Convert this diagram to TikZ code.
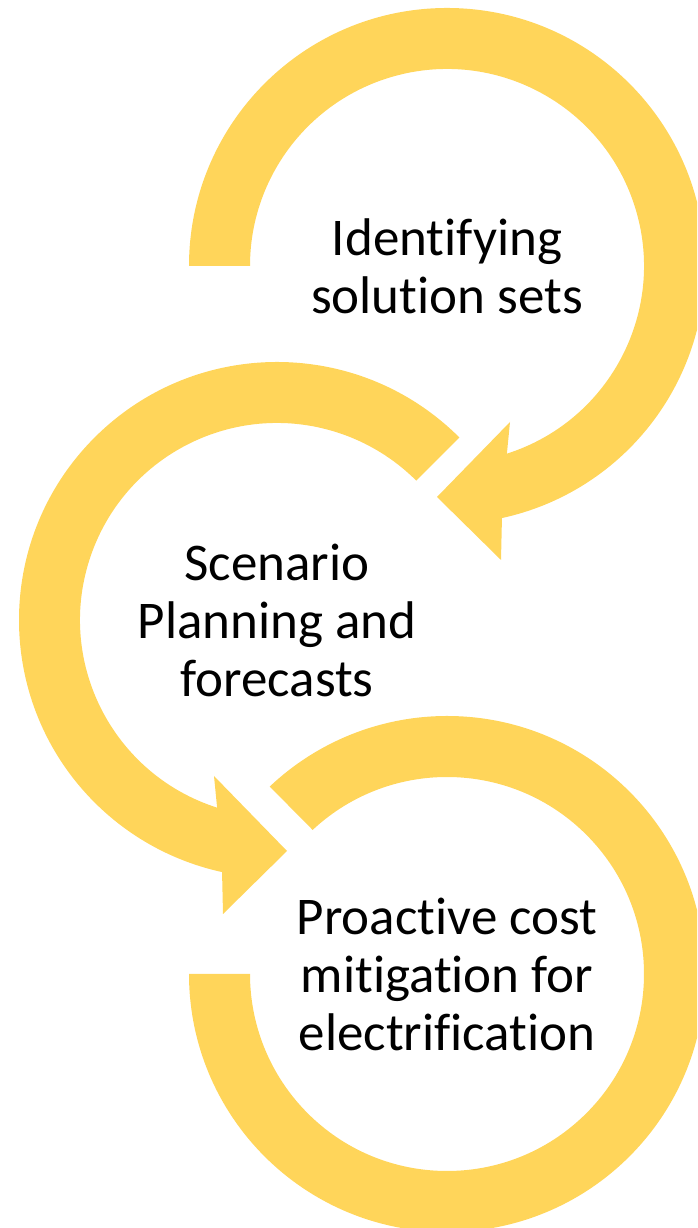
\documentclass[tikz,border=0pt]{standalone}
\usepackage{fontspec}
\setmainfont{Carlito}[RawFeature={-liga;-clig}]
\definecolor{ringgold}{RGB}{255,213,90}
\tikzset{
  ring/.style={fill=ringgold, draw=none},
  steptext/.style={align=center, inner sep=0pt, font=\fontsize{53}{58}\selectfont}
}

\begin{document}
\begin{tikzpicture}[x=1pt,y=1pt]
\clip (0,0) rectangle (697,1228);
\coordinate (c1) at (447,962);
\coordinate (c2) at (277,608);
\coordinate (c3) at (447,254);
\begin{scope}[shift={(c1)}]
\fill[ring] (180:258) arc[start angle=180, end angle=-77.7, radius=258] -- (54,-294) -- (-10,-231) -- (63,-156) -- (-72.3:197) arc[start angle=-72.3, end angle=180, radius=197] -- cycle;
\end{scope}
\begin{scope}[shift={(c2)}, xscale=-1]
\fill[ring] (135:258) arc[start angle=135, end angle=-77.7, radius=258] -- (54,-294) -- (-10,-231) -- (63,-156) -- (-72.3:197) arc[start angle=-72.3, end angle=135, radius=197] -- cycle;
\end{scope}
\begin{scope}[shift={(c3)}]
\fill[ring] (180:258) arc[start angle=180, end angle=493.4, radius=258] -- (493:197) arc[start angle=493, end angle=180, radius=197] -- cycle;
\end{scope}
\node[steptext] (ident) at (c1) {Identifying\\solution sets};
\node[steptext] (scen) at (c2) {Scenario\\Planning and\\forecasts};
\node[steptext] (proact) at (c3) {Proactive cost\\mitigation for\\electrification};
\end{tikzpicture}
\end{document}
